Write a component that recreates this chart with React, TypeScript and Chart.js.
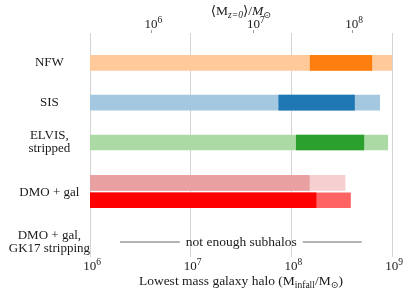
import React, { useEffect, useRef } from 'react';
import { Chart, registerables } from 'chart.js';
Chart.register(...registerables);

// ---- data ----
const rowLabels: string[][] = [['NFW'], ['SIS'], ['ELVIS,', 'stripped'], ['DMO + gal'], ['DMO + gal,', 'GK17 stripping']];
const rowPositions = [3, 7, 11, 16, 21];

const barRows = [3, 7, 11, 15.05, 16.8];
const outerLow = [1e6, 1e6, 1e6, 1e6, 1e6];
const outerHigh = [1e9, 7.55e8, 9.08e8, 3.42e8, 3.87e8];
const innerLow = [1.54e8, 7.5e7, 1.12e8, 1e6, 1e6];
const innerHigh = [6.3e8, 4.24e8, 5.25e8, 1.51e8, 1.76e8];
const outerColors = ['#ffc999', '#a5c8e1', '#acdaa5', '#f6d0d0', '#ff6464'];
const innerColors = ['#ff7f0e', '#1f77b4', '#2ca02c', '#e8a0a0', '#ff0000'];

const gapRow = 21;
const gapSegments = [[1.99e6, 7.8e6], [1.3e8, 5.0e8]];
const gapNote = 'not enough subhalos';

const bottomTicks = [1e6, 1e7, 1e8, 1e9];
const bottomTickExps = ['6', '7', '8', '9'];
const topTicks = [4.06e6, 4.25e7, 4.01e8];
const topTickExps = ['6', '7', '8'];

const FAMILY = "'Liberation Serif', 'DejaVu Serif', serif";
const TEXT = '#1a1a1a';

type Part = { t: string; size: number; dy?: number; italic?: boolean };

function drawRich(ctx: CanvasRenderingContext2D, parts: Part[], cx: number, y: number) {
  let total = 0;
  const widths = parts.map((p) => {
    ctx.font = `${p.italic ? 'italic ' : ''}${p.size}px ${FAMILY}`;
    const w = ctx.measureText(p.t).width;
    total += w;
    return w;
  });
  let x = cx - total / 2;
  ctx.textAlign = 'left';
  ctx.textBaseline = 'alphabetic';
  ctx.fillStyle = TEXT;
  parts.forEach((p, i) => {
    ctx.font = `${p.italic ? 'italic ' : ''}${p.size}px ${FAMILY}`;
    ctx.fillText(p.t, x, y + (p.dy || 0));
    x += widths[i];
  });
}

function drawPow(ctx: CanvasRenderingContext2D, exp: string, cx: number, baseline: number) {
  drawRich(ctx, [
    { t: '10', size: 13 },
    { t: exp, size: 9.5, dy: -5.5 },
  ], cx + 2, baseline);
}

const textPlugin = {
  id: 'richText',
  afterDraw(chart: any) {
    const ctx = chart.ctx as CanvasRenderingContext2D;
    const area = chart.chartArea;
    const cx = (area.left + area.right) / 2;
    const xs = chart.scales.x;
    const ys = chart.scales.y;
    ctx.save();
    bottomTicks.forEach((v, i) => drawPow(ctx, bottomTickExps[i], xs.getPixelForValue(v), area.bottom + 13));
    topTicks.forEach((v, i) => drawPow(ctx, topTickExps[i], xs.getPixelForValue(v), area.top - 5));
    drawRich(ctx, [
      { t: 'Lowest mass galaxy halo (M', size: 13.5 },
      { t: 'infall', size: 9.5, dy: 3 },
      { t: '/M', size: 13.5 },
      { t: '⊙', size: 9.5, dy: 3 },
      { t: ')', size: 13.5 },
    ], cx, 285);
    drawRich(ctx, [
      { t: '⟨M', size: 13.5 },
      { t: 'z=0', size: 9.5, dy: 3, italic: true },
      { t: '⟩/', size: 13.5 },
      { t: 'M', size: 13.5, italic: true },
      { t: '⊙', size: 9.5, dy: 3 },
    ], cx, 15);
    const nx = (xs.getPixelForValue(gapSegments[0][1]) + xs.getPixelForValue(gapSegments[1][0])) / 2;
    const ny = ys.getPixelForValue(gapRow);
    ctx.font = `13.5px ${FAMILY}`;
    ctx.fillStyle = TEXT;
    ctx.textAlign = 'center';
    ctx.textBaseline = 'middle';
    ctx.fillText(gapNote, nx, ny);
    ctx.restore();
  },
};

export default function App() {
  const ref = useRef<HTMLCanvasElement | null>(null);
  useEffect(() => {
    document.body.style.margin = '0';
    if (!ref.current) return;
    const datasets: any[] = [
      {
        type: 'bar',
        label: 'outer',
        data: barRows.map((r, i) => ({ y: r, x: [outerLow[i], outerHigh[i]] })),
        backgroundColor: outerColors,
        borderWidth: 0,
        barThickness: 15,
        grouped: false,
        indexAxis: 'y',
        order: 2,
      },
      {
        type: 'bar',
        label: 'inner',
        data: barRows.map((r, i) => ({ y: r, x: [innerLow[i], innerHigh[i]] })),
        backgroundColor: innerColors,
        borderWidth: 0,
        barThickness: 15,
        grouped: false,
        indexAxis: 'y',
        order: 1,
      },
      ...gapSegments.map((seg) => ({
        type: 'line',
        label: 'gap',
        data: seg.map((v) => ({ x: v, y: gapRow })),
        borderColor: '#b3b3b3',
        borderWidth: 2,
        pointRadius: 0,
        indexAxis: 'y',
        order: 0,
      })),
    ];
    const chart = new Chart(ref.current, {
      type: 'bar',
      data: { datasets },
      options: {
        animation: false,
        responsive: false,
        devicePixelRatio: 1,
        indexAxis: 'y',
        layout: { padding: { left: 0, right: 15, top: 0, bottom: 0 } },
        plugins: { legend: { display: false }, tooltip: { enabled: false }, title: { display: false } },
        scales: {
          x: {
            type: 'logarithmic',
            position: 'bottom',
            min: 1e6,
            max: 1e9,
            z: 1,
            afterBuildTicks: (s: any) => { s.ticks = bottomTicks.map((v) => ({ value: v })); },
            afterFit: (s: any) => { s.height = 38; },
            ticks: { display: false },
            grid: { color: 'rgba(0,0,0,0.17)', lineWidth: 1, drawTicks: false },
            border: { display: false },
          },
          x2: {
            type: 'logarithmic',
            position: 'top',
            min: 1e6,
            max: 1e9,
            afterBuildTicks: (s: any) => { s.ticks = topTicks.map((v) => ({ value: v })); },
            afterFit: (s: any) => { s.height = 33; },
            ticks: { display: false },
            grid: { drawOnChartArea: false, drawTicks: true, tickLength: 3, color: '#9a9a9a' },
            border: { display: false },
          },
          y: {
            type: 'linear',
            reverse: true,
            offset: false,
            min: 0,
            max: 22.5,
            afterBuildTicks: (s: any) => { s.ticks = rowPositions.map((v) => ({ value: v })); },
            afterFit: (s: any) => { s.width = 90; },
            ticks: {
              autoSkip: false,
              padding: 0,
              crossAlign: 'center',
              color: TEXT,
              font: { family: FAMILY, size: 13, lineHeight: 1.0 },
              callback: (v: any) => {
                const i = rowPositions.indexOf(Number(v));
                return i >= 0 ? rowLabels[i] : '';
              },
            },
            grid: { display: false, drawTicks: false },
            border: { display: false },
          },
        },
      } as any,
      plugins: [textPlugin],
    });
    return () => chart.destroy();
  }, []);
  return (
    <div style={{ width: 407, height: 295 }}>
      <canvas ref={ref} width={407} height={295} style={{ display: 'block' }} />
    </div>
  );
}
